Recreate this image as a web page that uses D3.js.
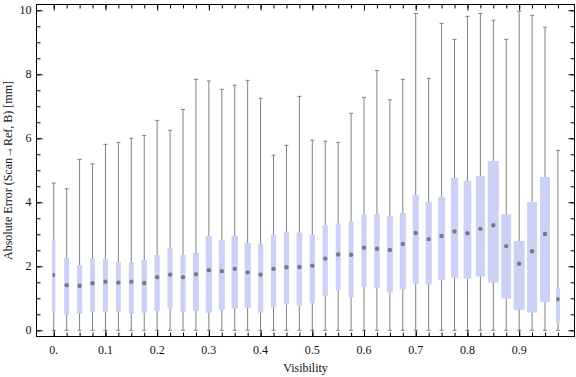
<!DOCTYPE html>
<html>
<head>
<meta charset="utf-8">
<script src="https://cdn.jsdelivr.net/npm/d3@7"></script>
<style>
  body { margin: 0; background: #fff; }
  svg { display: block; }
  text { font-family: "Liberation Serif", "DejaVu Serif", serif; fill: #111; }
</style>
</head>
<body>
<div id="chart"></div>
<script>
// visibility categories (one box per value)
const visibility = [0, 0.025, 0.05, 0.075, 0.1, 0.125, 0.15, 0.175, 0.2, 0.225,
  0.25, 0.275, 0.3, 0.325, 0.35, 0.375, 0.4, 0.425, 0.45, 0.475,
  0.5, 0.525, 0.55, 0.575, 0.6, 0.625, 0.65, 0.675, 0.7, 0.725,
  0.75, 0.775, 0.8, 0.825, 0.85, 0.875, 0.9, 0.925, 0.95, 0.975];
const minVal = [0, 0, 0, 0, 0, 0, 0, 0, 0, 0, 0, 0, 0, 0, 0, 0, 0, 0, 0, 0,
  0, 0, 0, 0, 0, 0, 0, 0, 0, 0, 0, 0, 0, 0, 0, 0, 0, 0, 0, 0];
const q1 = [0.55, 0.49, 0.52, 0.58, 0.56, 0.58, 0.52, 0.55, 0.61, 0.68,
  0.58, 0.61, 0.55, 0.64, 0.68, 0.71, 0.55, 0.71, 0.80, 0.77,
  0.84, 1.08, 1.24, 1.02, 1.36, 1.33, 1.18, 1.27, 1.46, 1.43,
  1.58, 1.64, 1.61, 1.68, 1.49, 0.99, 0.64, 0.55, 0.89, 0.24];
const median = [1.73, 1.41, 1.39, 1.47, 1.52, 1.49, 1.52, 1.48, 1.66, 1.74,
  1.66, 1.75, 1.88, 1.85, 1.92, 1.81, 1.74, 1.92, 1.97, 1.98,
  2.02, 2.24, 2.37, 2.36, 2.58, 2.55, 2.51, 2.70, 3.04, 2.85,
  2.95, 3.09, 3.03, 3.17, 3.28, 2.63, 2.08, 2.47, 3.01, 0.97];
const q3 = [2.84, 2.26, 2.04, 2.23, 2.23, 2.13, 2.13, 2.20, 2.35, 2.57,
  2.35, 2.42, 2.95, 2.82, 2.95, 2.73, 2.70, 2.98, 3.07, 3.05,
  2.98, 3.28, 3.34, 3.41, 3.63, 3.63, 3.57, 3.67, 4.23, 4.01,
  4.17, 4.76, 4.67, 4.82, 5.29, 3.63, 2.79, 4.01, 4.79, 1.31];
const maxVal = [4.60, 4.42, 5.34, 5.20, 5.81, 5.87, 6.00, 6.09, 6.56, 6.25,
  6.90, 7.84, 7.79, 7.53, 7.66, 7.81, 7.25, 5.47, 5.78, 7.31,
  5.94, 5.91, 5.87, 6.78, 7.28, 8.12, 7.20, 7.84, 9.90, 7.87,
  9.59, 9.09, 9.81, 9.90, 9.69, 9.09, 9.97, 9.84, 9.47, 5.62];
// relative box width (sample weight), 1 = widest box
const relWeight = [0.30, 0.45, 0.48, 0.45, 0.45, 0.45, 0.45, 0.48, 0.48, 0.48,
  0.48, 0.55, 0.57, 0.57, 0.57, 0.57, 0.48, 0.48, 0.48, 0.52,
  0.48, 0.48, 0.45, 0.45, 0.48, 0.52, 0.55, 0.55, 0.55, 0.57,
  0.64, 0.66, 0.70, 0.82, 1.00, 0.91, 1.00, 0.91, 0.91, 0.36];
const xTickLabels = ["0.", "0.1", "0.2", "0.3", "0.4", "0.5", "0.6", "0.7", "0.8", "0.9"];
const yTickLabels = ["0", "2", "4", "6", "8", "10"];

const data = visibility.map((v, i) => ({
  v, min: minVal[i], q1: q1[i], med: median[i], q3: q3[i], max: maxVal[i], w: relWeight[i]
}));

const W = 576, H = 377;
const L = 36.5, R = 574.5, T = 4.5, B = 336.5;
const svg = d3.select("#chart").append("svg").attr("width", W).attr("height", H);

const x = d3.scaleLinear().domain([-0.0333, 1.007]).range([L, R]);
const y = d3.scaleLinear().domain([-0.194, 10.18]).range([B, T]);
const wScale = d3.scaleLinear().domain([0, 1]).range([0, 11]);

const grey = "#808080";
const boxFill = "#ccd2f5";

// whiskers
const g = svg.append("g");
g.selectAll(".wh").data(data).join("line")
  .attr("x1", d => x(d.v)).attr("x2", d => x(d.v))
  .attr("y1", d => y(d.min)).attr("y2", d => y(d.max))
  .attr("stroke", grey).attr("stroke-width", 1);
["min", "max"].forEach(k => {
  g.selectAll(".cap" + k).data(data).join("line")
    .attr("x1", d => x(d.v) - 2).attr("x2", d => x(d.v) + 2)
    .attr("y1", d => y(d[k])).attr("y2", d => y(d[k]))
    .attr("stroke", grey).attr("stroke-width", 1);
});

// boxes
g.selectAll(".box").data(data).join("rect")
  .attr("x", d => x(d.v) - wScale(d.w) / 2)
  .attr("width", d => wScale(d.w))
  .attr("y", d => y(d.q3))
  .attr("height", d => y(d.q1) - y(d.q3))
  .attr("fill", boxFill);

// median markers
g.selectAll(".med").data(data).join("ellipse")
  .attr("cx", d => x(d.v)).attr("cy", d => y(d.med))
  .attr("rx", d => Math.min(2.2, wScale(d.w) / 2 - 0.3)).attr("ry", 2.2)
  .attr("fill", "#7a7a7a");

// frame
svg.append("rect").attr("x", L).attr("y", T).attr("width", R - L).attr("height", B - T)
  .attr("fill", "none").attr("stroke", "#000").attr("stroke-width", 1);

// ticks (inward, on all four sides)
const xMajor = xTickLabels.map((_, i) => i / 10);
const xAll = visibility;
const yMajor = yTickLabels.map(Number);
const yAll = d3.range(0, 10.01, 0.5);

const axisBottom = d3.axisBottom(x).tickValues(xAll).tickSizeInner(-4).tickSizeOuter(0).tickFormat("");
const axisTop = d3.axisTop(x).tickValues(xAll).tickSizeInner(-4).tickSizeOuter(0).tickFormat("");
const axisLeft = d3.axisLeft(y).tickValues(yAll).tickSizeInner(-4).tickSizeOuter(0).tickFormat("");
const axisRight = d3.axisRight(y).tickValues(yAll).tickSizeInner(-4).tickSizeOuter(0).tickFormat("");

function styleAxis(sel) {
  sel.select(".domain").remove();
  sel.selectAll(".tick line").attr("stroke", "#000");
}
svg.append("g").attr("transform", `translate(0,${B})`).call(axisBottom).call(styleAxis);
svg.append("g").attr("transform", `translate(0,${T})`).call(axisTop).call(styleAxis);
svg.append("g").attr("transform", `translate(${L},0)`).call(axisLeft).call(styleAxis);
svg.append("g").attr("transform", `translate(${R},0)`).call(axisRight).call(styleAxis);

// longer major ticks
svg.append("g").attr("transform", `translate(0,${B})`)
  .call(d3.axisBottom(x).tickValues(xMajor).tickSizeInner(-6).tickSizeOuter(0).tickFormat("")).call(styleAxis);
svg.append("g").attr("transform", `translate(0,${T})`)
  .call(d3.axisTop(x).tickValues(xMajor).tickSizeInner(-6).tickSizeOuter(0).tickFormat("")).call(styleAxis);
svg.append("g").attr("transform", `translate(${L},0)`)
  .call(d3.axisLeft(y).tickValues(yMajor).tickSizeInner(-6).tickSizeOuter(0).tickFormat("")).call(styleAxis);
svg.append("g").attr("transform", `translate(${R},0)`)
  .call(d3.axisRight(y).tickValues(yMajor).tickSizeInner(-6).tickSizeOuter(0).tickFormat("")).call(styleAxis);

// tick labels
svg.selectAll(".xl").data(xTickLabels).join("text")
  .attr("x", (d, i) => x(xMajor[i]))
  .attr("y", 354)
  .attr("text-anchor", "middle")
  .style("font-size", "12px")
  .text(d => d);
svg.selectAll(".yl").data(yTickLabels).join("text")
  .attr("x", 31.5)
  .attr("y", d => y(+d) + 4)
  .attr("text-anchor", "end")
  .style("font-size", "12px")
  .text(d => d);

// axis titles
svg.append("text")
  .attr("x", (L + R) / 2).attr("y", 372)
  .attr("text-anchor", "middle")
  .style("font-size", "12px")
  .text("Visibility");
svg.append("text")
  .attr("transform", `translate(12,${(T + B) / 2}) rotate(-90)`)
  .attr("text-anchor", "middle")
  .style("font-size", "12px")
  .text("Absolute Error (Scan\u2192Ref, B) [mm]");
</script>
</body>
</html>
